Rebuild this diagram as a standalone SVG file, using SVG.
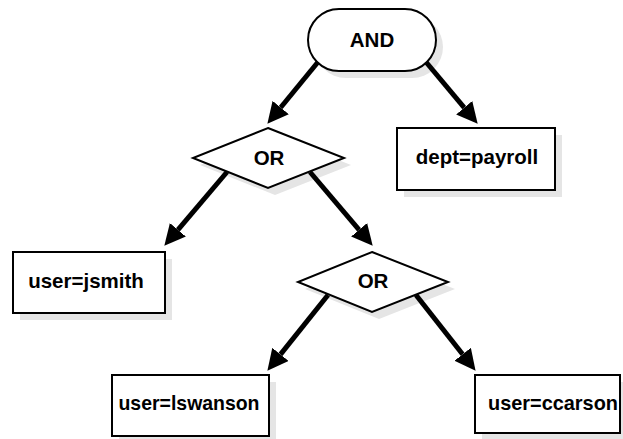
<svg xmlns="http://www.w3.org/2000/svg" width="623" height="439" viewBox="0 0 623 439">
<style>
.shape{fill:#ffffff;stroke:#000000;stroke-width:2}
.shadow{fill:#e5e5e5;stroke:none}
.label{font-family:"Liberation Sans",Arial,sans-serif;font-weight:bold;font-size:20.5px;fill:#000000}
.conn{stroke:#000000;stroke-width:5;fill:none;marker-end:url(#arrow)}
</style>
<defs>
<marker id="arrow" markerUnits="userSpaceOnUse" markerWidth="21" markerHeight="21" viewBox="0 0 21 21" refX="0" refY="10.5" orient="auto">
<path d="M0,0 L21,10.5 L0,21 z" fill="#000000"/>
</marker>
</defs>
<rect width="623" height="439" fill="#ffffff"/>
<g id="node-and">
<rect class="shadow" x="315" y="16" width="128" height="62" rx="31"/>
<rect class="shape" x="308" y="9" width="128" height="62" rx="31"/>
<text class="label" x="372" y="47" text-anchor="middle">AND</text>
</g>
<g id="node-or1">
<polygon class="shadow" points="275,135 351,165 275,195 200,165"/>
<polygon class="shape" points="268,128 344,158 268,188 193,158"/>
<text class="label" x="269" y="165" text-anchor="middle">OR</text>
</g>
<g id="node-dept">
<rect class="shadow" x="404" y="135" width="158" height="62"/>
<rect class="shape" x="397" y="128" width="158" height="62"/>
<text class="label" x="477" y="164" text-anchor="middle">dept=payroll</text>
</g>
<g id="node-jsmith">
<rect class="shadow" x="20" y="259" width="152" height="61"/>
<rect class="shape" x="13" y="252" width="152" height="61"/>
<text class="label" x="86" y="288" text-anchor="middle">user=jsmith</text>
</g>
<g id="node-or2">
<polygon class="shadow" points="379,259 455,289 379,319 305,289"/>
<polygon class="shape" points="372,252 448,282 372,312 298,282"/>
<text class="label" x="373" y="288" text-anchor="middle">OR</text>
</g>
<g id="node-lswanson">
<rect class="shadow" x="119" y="382" width="157" height="61"/>
<rect class="shape" x="112" y="375" width="157" height="61"/>
<text class="label" x="189" y="410" text-anchor="middle" textLength="141" lengthAdjust="spacingAndGlyphs">user=lswanson</text>
</g>
<g id="node-ccarson">
<rect class="shadow" x="482" y="382" width="146" height="58"/>
<rect class="shape" x="475" y="375" width="145" height="58"/>
<text class="label" x="488" y="410" textLength="130" lengthAdjust="spacingAndGlyphs">user=ccarson</text>
</g>
<g id="connectors">
<line class="conn" x1="318" y1="62" x2="280.7" y2="107.5"/>
<line class="conn" x1="426" y1="62" x2="464.2" y2="107.7"/>
<line class="conn" x1="227" y1="172" x2="177.9" y2="229.8"/>
<line class="conn" x1="310" y1="172" x2="359.1" y2="229.8"/>
<line class="conn" x1="328" y1="295" x2="280.5" y2="354.4"/>
<line class="conn" x1="416" y1="295" x2="462.6" y2="354.3"/>
</g>
</svg>
